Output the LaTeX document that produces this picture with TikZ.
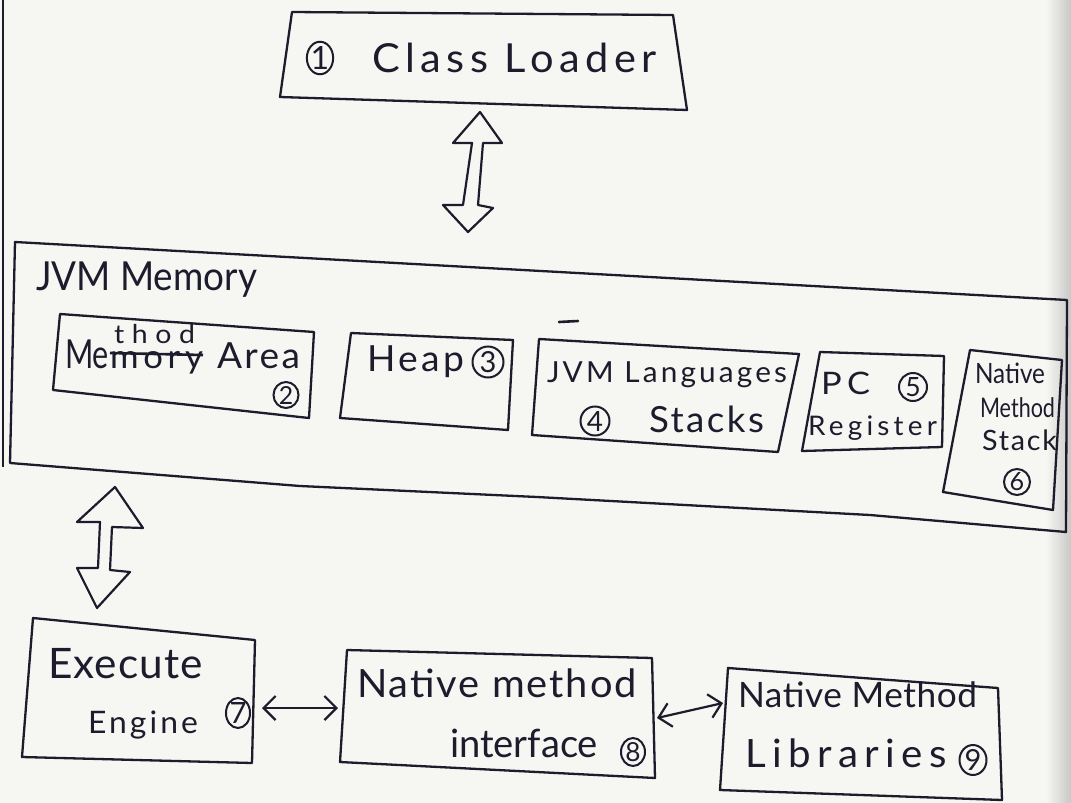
\documentclass[tikz,border=0pt]{standalone}
\usepackage{fontspec}
\usepackage{graphicx}
\usetikzlibrary{arrows.meta,shapes.geometric}
\newfontfamily\hand{Lato}
\definecolor{ink}{RGB}{28,28,44}
\definecolor{paper}{RGB}{246,246,243}
\definecolor{pageedge}{RGB}{200,200,198}
\newlength{\hwlen}
% #1 target width (px), #2 font size, #3 number of characters, #4 text
\newcommand{\hw}[4]{\begingroup
  \fontsize{#2pt}{#2pt}\hand
  \settowidth{\hwlen}{#4}%
  \pgfmathsetmacro{\hwls}{max(0,(#1-\hwlen)/(#3*#2)*100)}%
  \addfontfeature{LetterSpace=\hwls}%
  \resizebox{#1pt}{\height}{#4}%
  \endgroup}
\newcommand{\dg}[2]{\resizebox{!}{#1pt}{\hand #2}}
\begin{document}
\begin{tikzpicture}[x=1pt,y=-1pt,
  box/.style={draw=ink,line width=2.3pt,line join=round},
  hollow/.style={draw=ink,line width=2.2pt,line join=round},
  lbl/.style={anchor=base west,inner sep=0pt,outer sep=0pt,text=ink},
  numc/.style={ellipse,draw=ink,line width=2pt,inner sep=0pt,text=ink},
  biarrow/.style={draw=ink,line width=2.2pt,{Straight Barb[length=12pt,width=24pt]}-{Straight Barb[length=12pt,width=24pt]}}
]
% page
\fill[paper] (0,0) rectangle (1071,803);
\useasboundingbox (0,0) rectangle (1071,803);
\shade[left color=paper,right color=pageedge] (1046,0) rectangle (1071,803);
\draw[ink,line width=1.6pt] (3,0) -- (3,467);

% ---------- Class Loader ----------
\draw[box] (292,12) -- (673,15) -- (687,110) -- (280,97) -- cycle;
\node[numc,minimum width=24pt,minimum height=32pt] (n1) at (320,58) {\dg{23}{1}};
\node[lbl] (tcl) at (372,72) {\hw{285}{40}{12}{Class Loader}};

% hollow double arrow Class Loader <-> JVM Memory
\draw[hollow] (480,112) -- (502,143) -- (483,143) -- (478,205) -- (493,208) -- (468,232)
  -- (443,205) -- (463,205) -- (472,143) -- (453,143) -- cycle;

% ---------- JVM Memory ----------
\draw[box] (10,463) -- (15,242) -- (1067,300) -- (1066,532) -- (870,515) -- (537,497) -- (300,486) -- cycle;
\node[lbl] (tjvm) at (36,290) {\hw{221}{40}{10}{JVM Memory}};

% Method Area
\draw[box] (60,314) -- (314,332) -- (309,418) -- (53,390) -- cycle;
\node[lbl] (tme) at (65,368) {\hw{44}{40}{2}{Me}};
\node[lbl] (tmory) at (110,368) {\hw{93}{33}{4}{mory}};
\node[lbl] (tthod) at (114,343) {\hw{81}{26}{4}{thod}};
\draw[ink,line width=2.6pt] (110,353) -- (203,355);
\node[lbl] (tarea) at (217,368) {\hw{83}{36}{4}{Area}};
\node[numc,minimum width=25pt,minimum height=26pt] (n2) at (286,395) {\dg{18}{2}};

% Heap
\draw[box] (351,333) -- (513,340) -- (508,430) -- (340,418) -- cycle;
\node[lbl] (theap) at (367,371) {\hw{97}{36}{4}{Heap}};
\node[numc,minimum width=31pt,minimum height=31pt] (n3) at (488,362) {\dg{21}{3}};

% JVM Languages Stacks
\draw[ink,line width=2.6pt,line cap=round] (559,322) -- (578,321);
\draw[box] (539,339) -- (799,354) -- (778,452) -- (532,435) -- cycle;
\node[lbl] (tlang) at (547,382) {\hw{240}{29}{13}{JVM Languages}};
\node[numc,minimum width=29pt,minimum height=29pt] (n4) at (595,421) {\dg{20}{4}};
\node[lbl] (tstk) at (649,432) {\hw{115}{36}{6}{Stacks}};

% PC Register
\draw[box] (820,352) -- (944,356) -- (942,447) -- (802,451) -- cycle;
\node[lbl] (tpc) at (821,394) {\hw{49}{31}{2}{PC}};
\node[numc,minimum width=28pt,minimum height=28pt] (n5) at (913,387) {\dg{19}{5}};
\node[lbl] (treg) at (808,435) {\hw{129}{27}{8}{Register}};

% Native Method Stack
\draw[box] (970,350) -- (1062,360) -- (1053,510) -- (943,492) -- cycle;
\node[lbl] (tnat1) at (975,383) {\hw{70}{28}{6}{Native}};
\node[lbl] (tmeth1) at (980,417) {\hw{75}{27}{6}{Method}};
\node[lbl] (tstack1) at (982,450) {\hw{75}{28}{5}{Stack}};
\node[numc,minimum width=26pt,minimum height=26pt] (n6) at (1017,482) {\dg{18}{6}};

% hollow double arrow JVM Memory <-> Execute Engine
\draw[hollow] (115,487) -- (143,528) -- (112,527) -- (110,570) -- (130,572) -- (97,608)
  -- (77,568) -- (98,568) -- (100,522) -- (77,522) -- cycle;

% ---------- Execute Engine ----------
\draw[box] (33,618) -- (255,640) -- (252,763) -- (22,757) -- cycle;
\node[lbl] (texe) at (48,678) {\hw{155}{42}{7}{Execute}};
\node[lbl] (teng) at (88,733) {\hw{110}{31}{6}{Engine}};
\node[numc,minimum width=22pt,minimum height=30pt] (n7) at (238,713) {\dg{21}{7}};

% ---------- Native method interface ----------
\draw[box] (347,650) -- (652,658) -- (655,778) -- (340,762) -- cycle;
\node[lbl] (tnmi1) at (357,697) {\hw{280}{39}{13}{Native method}};
\node[lbl] (tnmi2) at (450,757) {\hw{148}{39}{9}{interface}};
\node[numc,minimum width=24pt,minimum height=28pt] (n8) at (633,752) {\dg{19}{8}};

% ---------- Native Method Libraries ----------
\draw[box] (728,668) -- (998,688) -- (1002,800) -- (720,790) -- cycle;
\node[lbl] (tnml1) at (738,707) {\hw{239}{35}{13}{Native Method}};
\node[lbl] (tnml2) at (745,767) {\hw{202}{39}{9}{Libraries}};
\node[numc,minimum width=27pt,minimum height=30pt] (n9) at (973,760) {\dg{21}{9}};

% connectors
\coordinate (eer) at (262,708);
\coordinate (nmil) at (338,708);
\coordinate (nmir) at (657,718);
\coordinate (nmll) at (723,703);
\draw[biarrow] (eer) -- (nmil);
\draw[biarrow] (nmir) -- (nmll);
\end{tikzpicture}
\end{document}
